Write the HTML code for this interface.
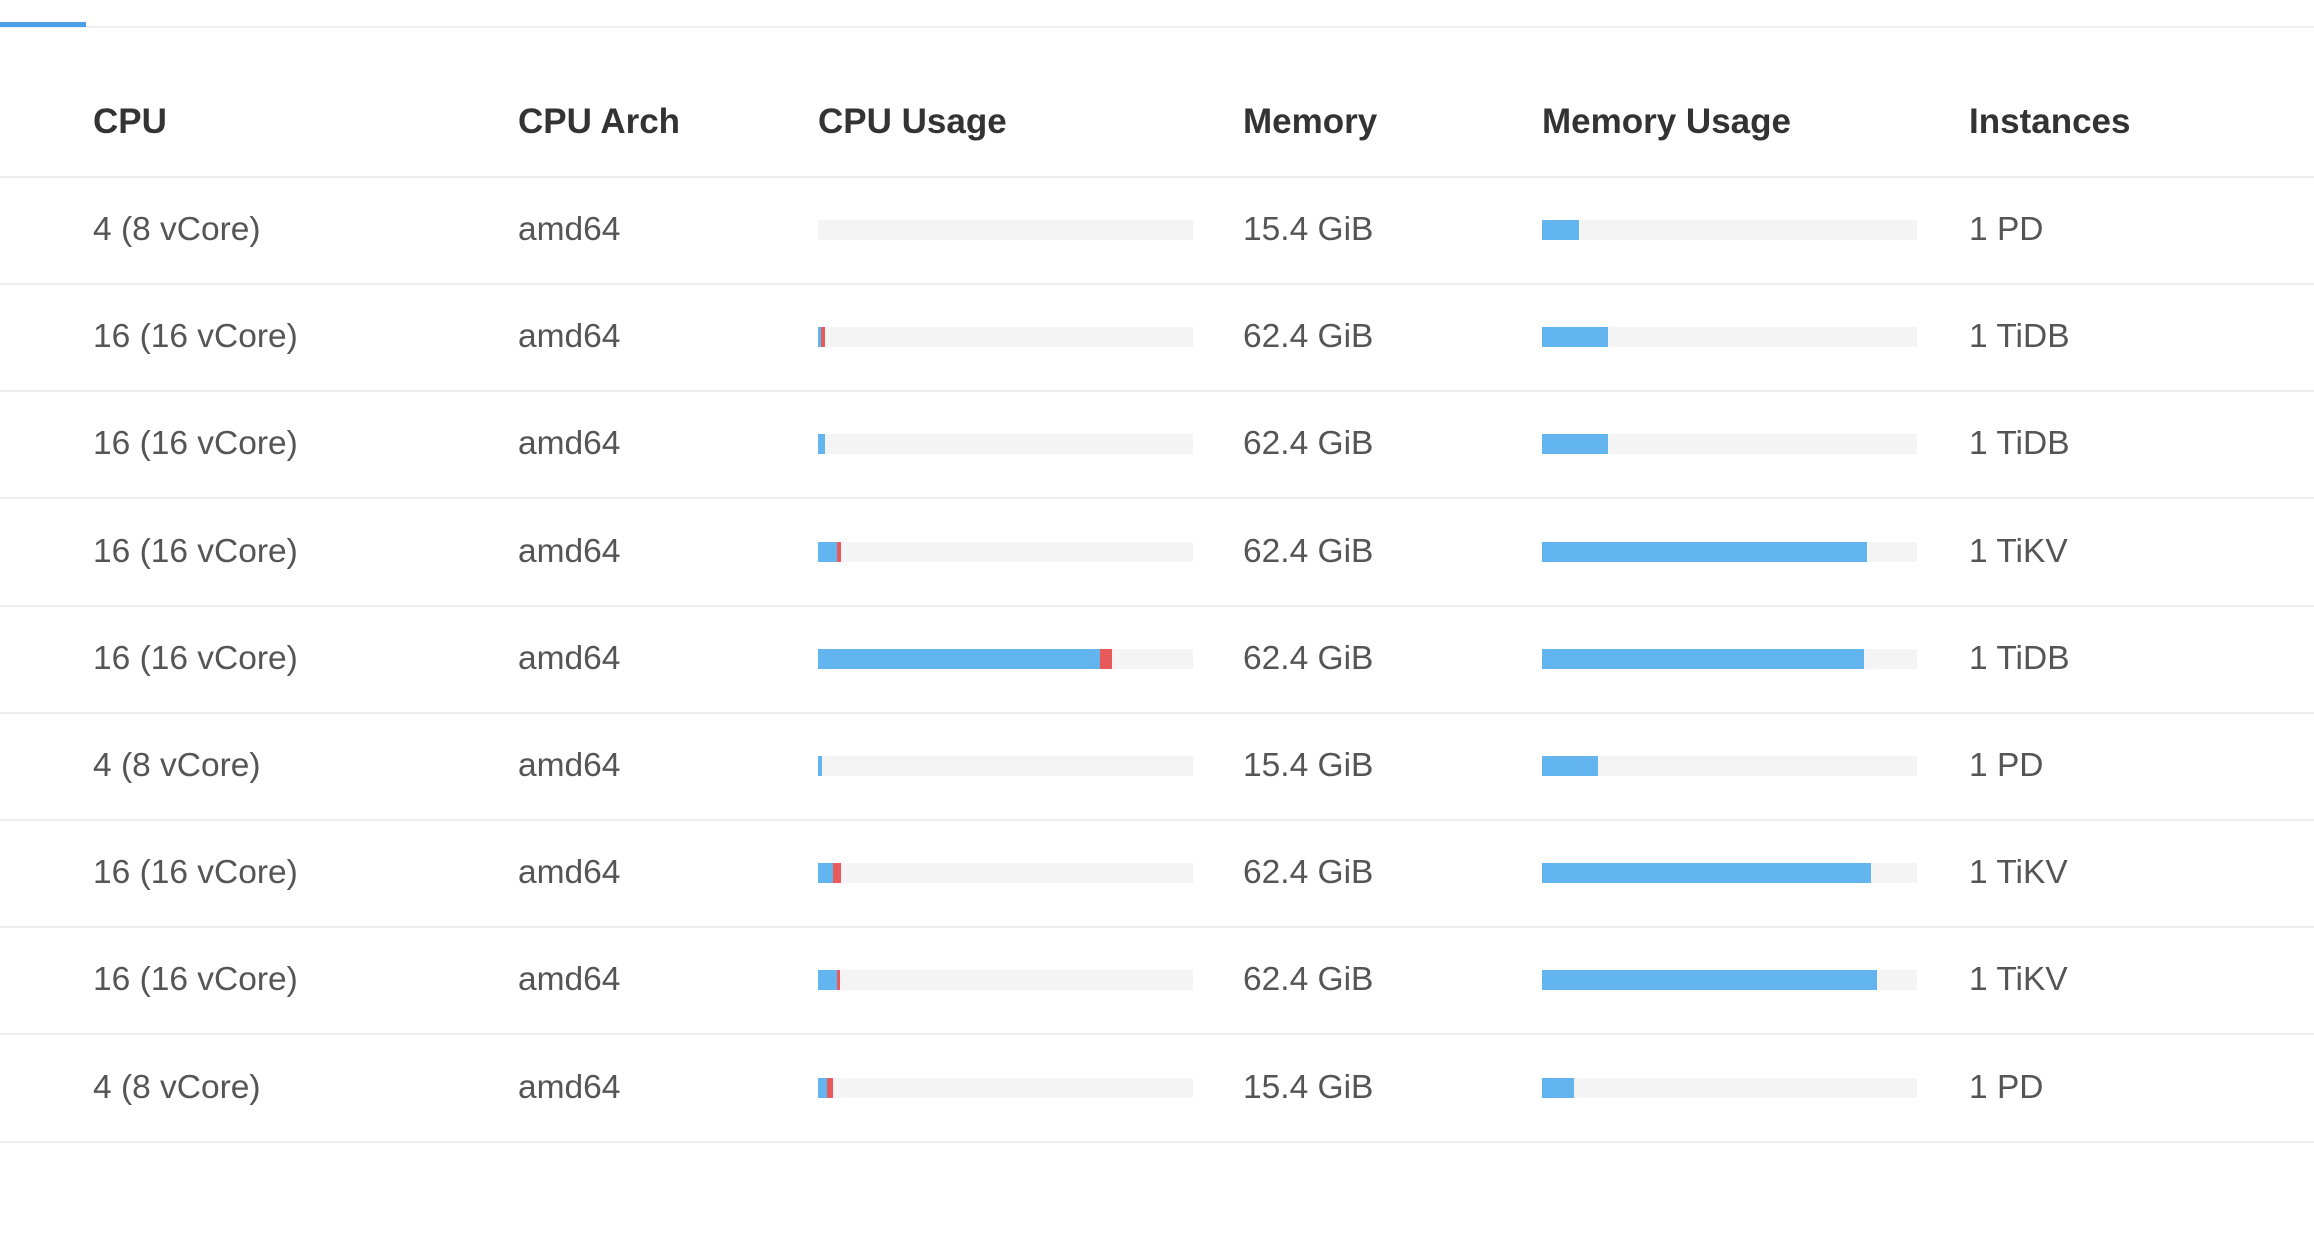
<!DOCTYPE html>
<html><head><meta charset="utf-8"><style>
body{margin:0;width:2314px;height:1234px;background:#fff;position:relative;overflow:hidden;font-family:"Liberation Sans",sans-serif;}
.a{position:absolute}
.t{position:absolute;font-size:33.5px;color:#555;line-height:40px;white-space:nowrap}
.h{position:absolute;font-size:35px;color:#333;font-weight:bold;line-height:40px;white-space:nowrap}
.line{position:absolute;left:0;width:2314px;height:2px;background:#ececec}
.bar{position:absolute;height:20px;width:375px;background:#f4f4f4}
.bar i{display:block;float:left;height:20px}
.b{background:#62b5ef}.r{background:#e85a5a}
</style></head><body>
<div class="a" style="left:0;top:26px;width:2314px;height:2px;background:#efefef"></div>
<div class="a" style="left:0;top:22px;width:86px;height:5px;background:#4a9fe8"></div>
<div class="h" style="left:93px;top:102px">CPU</div>
<div class="h" style="left:518px;top:102px">CPU Arch</div>
<div class="h" style="left:818px;top:102px">CPU Usage</div>
<div class="h" style="left:1243px;top:102px">Memory</div>
<div class="h" style="left:1542px;top:102px">Memory Usage</div>
<div class="h" style="left:1969px;top:102px">Instances</div>
<div class="line" style="top:176px"></div>
<div id="rows"></div>
<script>
var rows=[
["4 (8 vCore)",0,0,"15.4 GiB",37,"1 PD"],
["16 (16 vCore)",3,4,"62.4 GiB",66,"1 TiDB"],
["16 (16 vCore)",7,0,"62.4 GiB",66,"1 TiDB"],
["16 (16 vCore)",19,4,"62.4 GiB",325,"1 TiKV"],
["16 (16 vCore)",282,12,"62.4 GiB",322,"1 TiDB"],
["4 (8 vCore)",4,0,"15.4 GiB",56,"1 PD"],
["16 (16 vCore)",15,8,"62.4 GiB",329,"1 TiKV"],
["16 (16 vCore)",19,3,"62.4 GiB",335,"1 TiKV"],
["4 (8 vCore)",9,6,"15.4 GiB",32,"1 PD"]];
var h="";
for(var i=0;i<rows.length;i++){var r=rows[i];var c=230+i*107.2;var ty=c-20;
h+='<div class="t" style="left:93px;top:'+ty+'px">'+r[0]+'</div>';
h+='<div class="t" style="left:518px;top:'+ty+'px">amd64</div>';
h+='<div class="bar" style="left:818px;top:'+(c-10)+'px"><i class="b" style="width:'+r[1]+'px"></i><i class="r" style="width:'+r[2]+'px"></i></div>';
h+='<div class="t" style="left:1243px;top:'+ty+'px">'+r[3]+'</div>';
h+='<div class="bar" style="left:1542px;top:'+(c-10)+'px"><i class="b" style="width:'+r[4]+'px"></i></div>';
h+='<div class="t" style="left:1969px;top:'+ty+'px">'+r[5]+'</div>';
h+='<div class="line" style="top:'+(c+53)+'px"></div>';}
document.getElementById("rows").innerHTML=h;
</script>
</body></html>
